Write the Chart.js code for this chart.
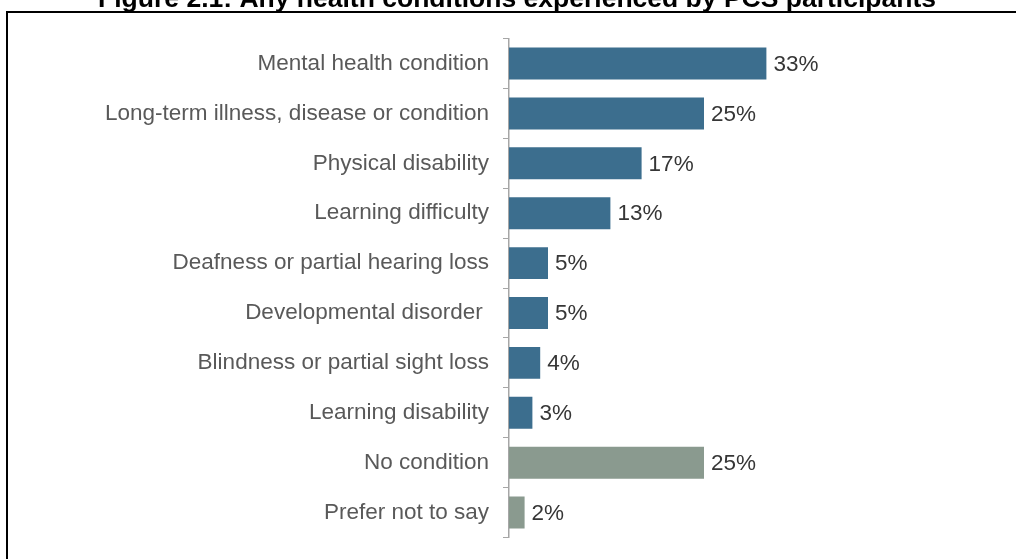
<!DOCTYPE html>
<html>
<head>
<meta charset="utf-8">
<script src="https://cdn.jsdelivr.net/npm/chart.js@4"></script>
<style>
  html, body { margin: 0; padding: 0; background: #fff; overflow: hidden; }
  body { width: 1016px; height: 559px; position: relative; }
  #frame {
    position: absolute; left: 6px; top: 11px;
    width: 1100px; height: 700px;
    border: 2px solid #000; box-sizing: border-box;
  }
  #conditions { position: absolute; left: 0; top: -16px; }
</style>
</head>
<body>
<div id="frame"></div>
<canvas id="conditions" width="1016" height="581"></canvas>
<script>
const titleText = "Figure 2.1: Any health conditions experienced by PCS participants";

const categories = [
  "Mental health condition",
  "Long-term illness, disease or condition",
  "Physical disability",
  "Learning difficulty",
  "Deafness or partial hearing loss",
  "Developmental disorder ",
  "Blindness or partial sight loss",
  "Learning disability",
  "No condition",
  "Prefer not to say"
];
const percentages = [33, 25, 17, 13, 5, 5, 4, 3, 25, 2];

const BLUE = "#3c6e8e";
const GREY = "#8a9a8f";
const barColours = categories.map((c, i) => i < 8 ? BLUE : GREY);

// writes "NN%" just past the end of each bar
const valueLabels = {
  id: "valueLabels",
  afterDatasetsDraw(chart) {
    const ctx = chart.ctx;
    const meta = chart.getDatasetMeta(0);
    ctx.save();
    ctx.font = "22.5px 'Liberation Sans', Arial, sans-serif";
    ctx.fillStyle = "#363636";
    ctx.textAlign = "left";
    ctx.textBaseline = "middle";
    meta.data.forEach((bar, i) => {
      ctx.fillText(percentages[i] + "%", bar.x + 7, bar.y + 1);
    });
    ctx.restore();
  }
};

window.onload = function () {
  const ctx = document.getElementById("conditions").getContext("2d");
  new Chart(ctx, {
    type: "bar",
    data: {
      labels: categories,
      datasets: [{
        data: percentages,
        backgroundColor: barColours,
        categoryPercentage: 1,
        barPercentage: 0.64
      }]
    },
    options: {
      indexAxis: "y",
      responsive: false,
      animation: false,
      layout: { padding: { left: 18, right: 0, top: 0, bottom: 10 } },
      plugins: {
        legend: { display: false },
        tooltip: { enabled: false },
        title: {
          display: true,
          text: titleText,
          color: "#000",
          font: { family: "'Liberation Sans', Arial, sans-serif", size: 26.5, weight: "bold" },
          padding: { top: 0, bottom: 22.8 }
        }
      },
      scales: {
        x: {
          display: false,
          min: 0,
          max: 65
        },
        y: {
          afterFit(scale) { scale.width = 491; },
          grid: {
            drawOnChartArea: false,
            drawTicks: true,
            tickLength: 6,
            color: "#a6a6a6",
            lineWidth: 1
          },
          border: { display: true, color: "#a6a6a6", width: 1.5 },
          ticks: {
            color: "#595959",
            padding: 14,
            font: { family: "'Liberation Sans', Arial, sans-serif", size: 22.5 }
          }
        }
      }
    },
    plugins: [valueLabels]
  });
};
</script>
</body>
</html>
